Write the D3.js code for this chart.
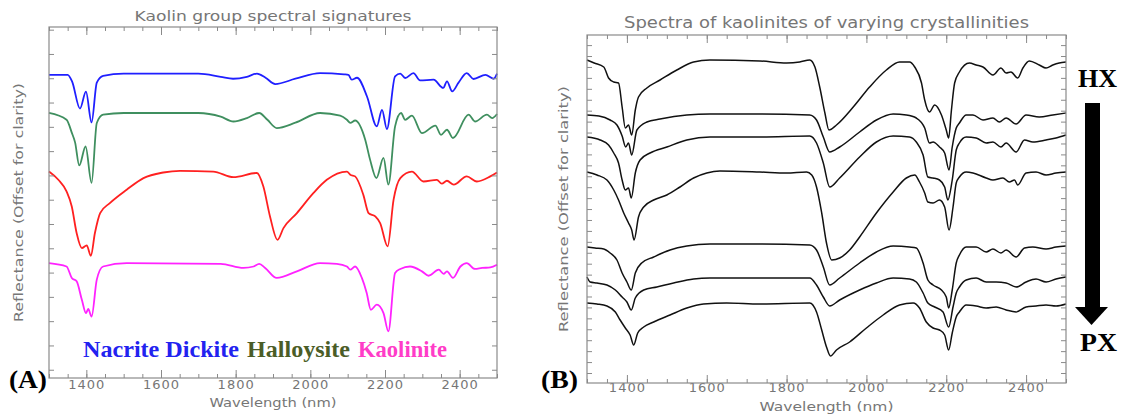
<!DOCTYPE html>
<html><head><meta charset="utf-8">
<script src="https://cdn.jsdelivr.net/npm/d3@7"></script>
<style>body{margin:0;background:#fff;overflow:hidden}</style>
</head><body>
<svg id="chart" width="1122" height="414" xmlns="http://www.w3.org/2000/svg"></svg>
<script>
// ---------- DATA ----------
// Panel A: wavelength (nm), reflectance offset for clarity
const nacrite = [[1300,1.214],[1350,1.214],[1362,1.186],[1383,1.075],[1399,1.145],[1414,1.018],[1428,1.182],[1445,1.210],[1500,1.219],[1700,1.219],[1760,1.206],[1793,1.198],[1830,1.206],[1857,1.219],[1880,1.202],[1906,1.176],[1960,1.198],[2026,1.221],[2090,1.216],[2102,1.214],[2111,1.194],[2125,1.202],[2152,1.124],[2178,1.002],[2192,1.070],[2205,0.991],[2227,1.208],[2241,1.219],[2254,1.201],[2276,1.221],[2294,1.191],[2330,1.194],[2356,1.160],[2366,1.187],[2380,1.146],[2397,1.182],[2419,1.221],[2437,1.197],[2469,1.214],[2491,1.198],[2500,1.219]];
const dickite = [[1300,1.057],[1347,1.029],[1361,0.976],[1370,0.935],[1381,0.841],[1398,0.919],[1414,0.769],[1428,1.016],[1445,1.050],[1500,1.057],[1700,1.057],[1760,1.042],[1794,1.022],[1830,1.036],[1863,1.057],[1885,1.029],[1910,0.995],[1960,1.017],[2026,1.057],[2080,1.046],[2098,1.029],[2107,1.016],[2120,1.026],[2147,0.947],[2160,0.865],[2177,0.789],[2196,0.872],[2209,0.762],[2227,1.002],[2243,1.057],[2254,1.029],[2272,1.046],[2299,0.974],[2335,1.005],[2350,0.967],[2366,0.988],[2382,0.954],[2424,1.050],[2441,1.022],[2473,1.050],[2487,1.036],[2500,1.053]];
const halloysite = [[1300,0.816],[1325,0.782],[1347,0.734],[1361,0.672],[1374,0.563],[1388,0.501],[1401,0.512],[1412,0.469],[1423,0.563],[1437,0.645],[1463,0.686],[1508,0.741],[1553,0.789],[1606,0.812],[1651,0.819],[1740,0.816],[1794,0.793],[1857,0.810],[1874,0.755],[1892,0.631],[1912,0.535],[1928,0.583],[1964,0.645],[2008,0.727],[2044,0.782],[2098,0.816],[2107,0.803],[2120,0.796],[2142,0.720],[2156,0.645],[2174,0.631],[2187,0.604],[2207,0.508],[2223,0.700],[2241,0.789],[2272,0.816],[2303,0.775],[2339,0.782],[2352,0.766],[2366,0.778],[2384,0.762],[2419,0.796],[2446,0.775],[2482,0.796],[2500,0.812]];
const kaolinite = [[1300,0.439],[1347,0.425],[1361,0.378],[1374,0.364],[1388,0.288],[1399,0.233],[1405,0.250],[1414,0.219],[1428,0.371],[1445,0.425],[1508,0.439],[1760,0.436],[1821,0.419],[1848,0.425],[1863,0.436],[1879,0.419],[1910,0.378],[1964,0.405],[2026,0.439],[2071,0.436],[2098,0.425],[2107,0.412],[2120,0.425],[2138,0.378],[2151,0.316],[2162,0.247],[2178,0.268],[2196,0.233],[2209,0.158],[2227,0.398],[2241,0.415],[2267,0.425],[2299,0.405],[2317,0.387],[2344,0.412],[2357,0.395],[2366,0.405],[2382,0.378],[2402,0.425],[2419,0.439],[2441,0.415],[2460,0.419],[2482,0.421],[2500,0.432]];
const seriesColorsA = ["#1f1fff","#3f8f5f","#ff2020","#ff22ff"];

// Panel B: kaolinites from high (HX) to poor (PX) crystallinity
const kaoB1 = [[1300,3.40],[1318,3.37],[1342,3.33],[1354,3.22],[1367,3.18],[1379,3.17],[1388,2.93],[1396,2.72],[1404,2.75],[1412,2.65],[1421,2.90],[1429,3.03],[1450,3.12],[1483,3.20],[1525,3.30],[1567,3.38],[1608,3.40],[1733,3.39],[1800,3.37],[1833,3.38],[1858,3.40],[1871,3.33],[1883,3.13],[1896,2.87],[1906,2.70],[1925,2.75],[1967,2.93],[2008,3.13],[2050,3.30],[2083,3.38],[2108,3.38],[2121,3.33],[2138,3.17],[2146,3.00],[2158,2.88],[2171,2.95],[2188,2.85],[2200,2.70],[2206,2.62],[2213,2.90],[2221,3.17],[2233,3.28],[2258,3.37],[2275,3.35],[2292,3.33],[2317,3.25],[2337,3.32],[2350,3.27],[2362,3.28],[2379,3.22],[2392,3.32],[2408,3.39],[2433,3.35],[2450,3.32],[2467,3.35],[2483,3.37],[2500,3.38]];
const kaoB2 = [[1300,2.85],[1330,2.84],[1358,2.80],[1375,2.75],[1388,2.64],[1397,2.53],[1404,2.57],[1412,2.45],[1425,2.70],[1450,2.78],[1483,2.81],[1550,2.85],[1608,2.86],[1733,2.86],[1858,2.85],[1875,2.80],[1892,2.63],[1908,2.48],[1933,2.53],[1983,2.68],[2025,2.80],[2067,2.86],[2100,2.85],[2125,2.82],[2146,2.72],[2158,2.57],[2167,2.58],[2183,2.53],[2196,2.47],[2207,2.30],[2215,2.53],[2225,2.72],[2233,2.77],[2250,2.85],[2267,2.85],[2292,2.80],[2317,2.82],[2333,2.78],[2350,2.82],[2375,2.76],[2400,2.85],[2433,2.83],[2467,2.85],[2500,2.87]];
const kaoB3 = [[1300,2.63],[1333,2.60],[1354,2.55],[1367,2.47],[1379,2.37],[1388,2.20],[1396,2.10],[1404,2.12],[1411,2.02],[1421,2.27],[1433,2.40],[1458,2.47],[1500,2.53],[1550,2.60],[1608,2.63],[1733,2.63],[1858,2.64],[1875,2.57],[1892,2.37],[1908,2.13],[1933,2.22],[1983,2.43],[2025,2.58],[2067,2.64],[2108,2.63],[2125,2.58],[2142,2.45],[2154,2.23],[2167,2.22],[2183,2.20],[2196,2.13],[2204,2.00],[2215,2.20],[2225,2.50],[2233,2.57],[2250,2.63],[2275,2.62],[2300,2.57],[2317,2.58],[2337,2.53],[2350,2.57],[2375,2.48],[2396,2.60],[2417,2.58],[2450,2.60],[2475,2.62],[2500,2.65]];
const kaoB4 = [[1300,2.28],[1325,2.25],[1350,2.20],[1367,2.10],[1379,2.00],[1392,1.87],[1404,1.77],[1412,1.70],[1418,1.60],[1429,1.83],[1442,1.93],[1467,2.00],[1500,2.05],[1533,2.13],[1567,2.22],[1600,2.27],[1633,2.29],[1733,2.28],[1800,2.27],[1850,2.28],[1863,2.25],[1875,2.13],[1888,1.87],[1900,1.57],[1913,1.40],[1933,1.42],[1958,1.50],[1983,1.63],[2025,1.87],[2067,2.08],[2100,2.22],[2121,2.25],[2133,2.18],[2146,2.07],[2154,1.98],[2167,1.97],[2183,2.00],[2196,1.93],[2207,1.70],[2217,1.93],[2225,2.17],[2233,2.23],[2250,2.28],[2267,2.27],[2300,2.22],[2317,2.20],[2342,2.22],[2358,2.18],[2371,2.20],[2379,2.15],[2400,2.27],[2425,2.28],[2450,2.25],[2475,2.27],[2500,2.28]];
const kaoB5 = [[1300,1.53],[1320,1.52],[1342,1.51],[1358,1.47],[1375,1.40],[1388,1.27],[1400,1.18],[1411,1.10],[1421,1.27],[1437,1.37],[1467,1.43],[1508,1.50],[1550,1.54],[1608,1.56],[1733,1.56],[1858,1.55],[1875,1.50],[1892,1.33],[1908,1.15],[1933,1.22],[1983,1.37],[2025,1.48],[2067,1.54],[2108,1.53],[2125,1.52],[2142,1.37],[2154,1.20],[2167,1.15],[2188,1.10],[2200,1.03],[2206,0.92],[2215,1.10],[2225,1.37],[2233,1.45],[2250,1.53],[2275,1.53],[2300,1.48],[2317,1.51],[2337,1.47],[2350,1.50],[2375,1.43],[2396,1.52],[2417,1.53],[2450,1.51],[2475,1.53],[2500,1.54]];
const kaoB6 = [[1300,1.23],[1308,1.18],[1325,1.17],[1350,1.15],[1371,1.10],[1388,1.03],[1400,0.98],[1411,0.90],[1421,1.02],[1442,1.10],[1475,1.13],[1517,1.17],[1567,1.21],[1608,1.22],[1733,1.22],[1858,1.22],[1875,1.15],[1892,1.03],[1908,0.94],[1933,1.00],[1983,1.10],[2025,1.17],[2067,1.22],[2108,1.21],[2125,1.18],[2142,1.07],[2154,0.97],[2171,0.93],[2192,0.88],[2206,0.73],[2217,0.93],[2225,1.07],[2233,1.13],[2250,1.20],[2275,1.22],[2300,1.18],[2325,1.18],[2350,1.17],[2375,1.13],[2400,1.18],[2425,1.21],[2450,1.18],[2475,1.21],[2500,1.23]];
const kaoB7 = [[1300,0.97],[1325,0.96],[1350,0.94],[1371,0.88],[1383,0.80],[1396,0.72],[1408,0.65],[1417,0.55],[1427,0.67],[1442,0.73],[1467,0.78],[1508,0.85],[1550,0.92],[1592,0.96],[1650,0.97],[1733,0.96],[1858,0.97],[1875,0.88],[1888,0.70],[1900,0.53],[1910,0.44],[1925,0.50],[1958,0.58],[2000,0.72],[2042,0.85],[2083,0.95],[2117,0.97],[2133,0.92],[2150,0.78],[2167,0.72],[2183,0.70],[2196,0.65],[2206,0.50],[2215,0.67],[2225,0.83],[2233,0.88],[2250,0.95],[2275,0.94],[2300,0.92],[2325,0.93],[2350,0.90],[2375,0.88],[2400,0.93],[2425,0.94],[2450,0.95],[2475,0.94],[2500,0.96]];

// Axis tick labels and text
const xMajorTicks = [1400,1600,1800,2000,2200,2400];
const xMinorTicks = [1300,1350,1400,1450,1500,1550,1600,1650,1700,1750,1800,1850,1900,1950,2000,2050,2100,2150,2200,2250,2300,2350,2400,2450,2500];
const titleA = "Kaolin group spectral signatures";
const titleB = "Spectra of kaolinites of varying crystallinities";
const xLabel = "Wavelength (nm)";
const yLabel = "Reflectance (Offset for clarity)";
const legendLabels = ["Nacrite Dickite","Halloysite","Kaolinite"];
const legendColors = ["#2222f0","#4b5d27","#ff3cc8"];

// ---------- DRAW ----------
const svg = d3.select("#chart");
const axisColor = "#8a8a8a", textColor = "#767676";
const tickFont = "'DejaVu Sans', sans-serif";

function drawPanel(cfg) {
  const g = svg.append("g");
  const x = d3.scaleLinear().domain([1300, 2500]).range([cfg.left, cfg.right]);
  const y = d3.scaleLinear().domain(cfg.yDomain).range([cfg.bottom, cfg.top]);
  const line = d3.line().x(d => x(d[0])).y(d => y(d[1])).curve(d3.curveMonotoneX);
  cfg.series.forEach((s, i) => {
    g.append("path").datum(s).attr("d", line).attr("fill", "none")
      .attr("stroke", cfg.colors[i]).attr("stroke-width", cfg.lineWidth)
      .attr("stroke-linejoin", "round");
  });
  const styleAxis = sel => {
    sel.select(".domain").remove();
    sel.selectAll(".tick line").attr("stroke", axisColor);
    sel.selectAll(".tick text").attr("fill", textColor).attr("font-family", tickFont).attr("font-size", 13).attr("letter-spacing", "1px");
  };
  g.append("g").attr("transform", `translate(0,${cfg.bottom})`)
    .call(d3.axisBottom(x).tickValues(xMinorTicks).tickSize(-4).tickFormat("")).call(styleAxis);
  g.append("g").attr("transform", `translate(0,${cfg.bottom})`)
    .call(d3.axisBottom(x).tickValues(xMajorTicks).tickSizeInner(-8).tickSizeOuter(0).tickPadding(cfg.labelPad).tickFormat(d3.format("d"))).call(styleAxis);
  g.append("g").attr("transform", `translate(0,${cfg.top})`)
    .call(d3.axisTop(x).tickValues(xMinorTicks).tickSize(-4).tickFormat("")).call(styleAxis);
  g.append("g").attr("transform", `translate(0,${cfg.top})`)
    .call(d3.axisTop(x).tickValues(xMajorTicks).tickSize(-8).tickFormat("")).call(styleAxis);
  g.append("g").attr("transform", `translate(${cfg.left},0)`)
    .call(d3.axisLeft(y).tickValues(cfg.yTicks).tickSize(-5).tickFormat("")).call(styleAxis);
  g.append("g").attr("transform", `translate(${cfg.right},0)`)
    .call(d3.axisRight(y).tickValues(cfg.yTicks).tickSize(-5).tickFormat("")).call(styleAxis);
  g.append("rect").attr("x", cfg.left).attr("y", cfg.top)
    .attr("width", cfg.right - cfg.left).attr("height", cfg.bottom - cfg.top)
    .attr("fill", "none").attr("stroke", axisColor).attr("stroke-width", 1.2);
  const cx = (cfg.left + cfg.right) / 2;
  g.append("text").attr("x", cx).attr("y", cfg.titleY).attr("text-anchor", "middle")
    .attr("font-family", tickFont).attr("font-size", cfg.titleSize).attr("fill", textColor)
    .attr("textLength", cfg.titleLen).attr("lengthAdjust", "spacingAndGlyphs").text(cfg.title);
  g.append("text").attr("x", cx).attr("y", cfg.xLabelY).attr("text-anchor", "middle")
    .attr("font-family", tickFont).attr("font-size", 13).attr("fill", textColor)
    .attr("textLength", cfg.xLabelLen).attr("lengthAdjust", "spacingAndGlyphs").text(xLabel);
  const cy = (cfg.top + cfg.bottom) / 2;
  g.append("text").attr("transform", `translate(${cfg.yLabelX},${cy}) rotate(-90)`)
    .attr("text-anchor", "middle").attr("font-family", tickFont).attr("font-size", 13)
    .attr("fill", textColor).attr("textLength", cfg.yLabelLen).attr("lengthAdjust", "spacingAndGlyphs")
    .text(yLabel);
  return {x, y, g};
}

drawPanel({
  left: 49, right: 497, top: 27, bottom: 378,
  yDomain: [-0.034, 1.411], yTicks: d3.range(0, 1.45, 0.1),
  series: [nacrite, dickite, halloysite, kaolinite], colors: seriesColorsA, lineWidth: 1.8,
  title: titleA, titleY: 21, titleSize: 14, titleLen: 277,
  xLabelY: 407, xLabelLen: 127, yLabelX: 23, yLabelLen: 239, labelPad: 2
});

drawPanel({
  left: 587, right: 1066, top: 35, bottom: 383,
  yDomain: [0.17, 3.65], yTicks: d3.range(31).map(k => 0.27 + k * 0.1093),
  series: [kaoB1, kaoB2, kaoB3, kaoB4, kaoB5, kaoB6, kaoB7], colors: d3.range(7).map(() => "#111"), lineWidth: 1.5,
  title: titleB, titleY: 28, titleSize: 15, titleLen: 405,
  xLabelY: 411, xLabelLen: 134, yLabelX: 568, yLabelLen: 246, labelPad: 0
});

// Legend for panel A
const serif = "'Liberation Serif', 'Times New Roman', serif";
const legendX = [83, 247, 358], legendW = [156, 103, 89];
legendLabels.forEach((t, i) => {
  svg.append("text").attr("x", legendX[i]).attr("y", 357)
    .attr("font-family", serif).attr("font-weight", "bold").attr("font-size", 24)
    .attr("fill", legendColors[i]).attr("textLength", legendW[i]).attr("lengthAdjust", "spacingAndGlyphs").text(t);
});

// Panel letters
svg.append("text").attr("x", 9).attr("y", 388).attr("font-family", serif).attr("font-weight", "bold")
  .attr("font-size", 25).attr("fill", "#000").attr("textLength", 38).attr("lengthAdjust", "spacingAndGlyphs").text("(A)");
svg.append("text").attr("x", 541).attr("y", 388).attr("font-family", serif).attr("font-weight", "bold")
  .attr("font-size", 25).attr("fill", "#000").attr("textLength", 37).attr("lengthAdjust", "spacingAndGlyphs").text("(B)");

// HX -> PX arrow
svg.append("text").attr("x", 1078).attr("y", 87).attr("font-family", serif).attr("font-weight", "bold")
  .attr("font-size", 26).attr("fill", "#000").attr("textLength", 39).attr("lengthAdjust", "spacingAndGlyphs").text("HX");
svg.append("text").attr("x", 1080).attr("y", 351).attr("font-family", serif).attr("font-weight", "bold")
  .attr("font-size", 26).attr("fill", "#000").attr("textLength", 37).attr("lengthAdjust", "spacingAndGlyphs").text("PX");
svg.append("rect").attr("x", 1085).attr("y", 103).attr("width", 15).attr("height", 205).attr("fill", "#000");
svg.append("path").attr("d", d3.line()([[1075, 307], [1108, 307], [1091.5, 325]]) + "Z").attr("fill", "#000");
</script>
</body></html>
